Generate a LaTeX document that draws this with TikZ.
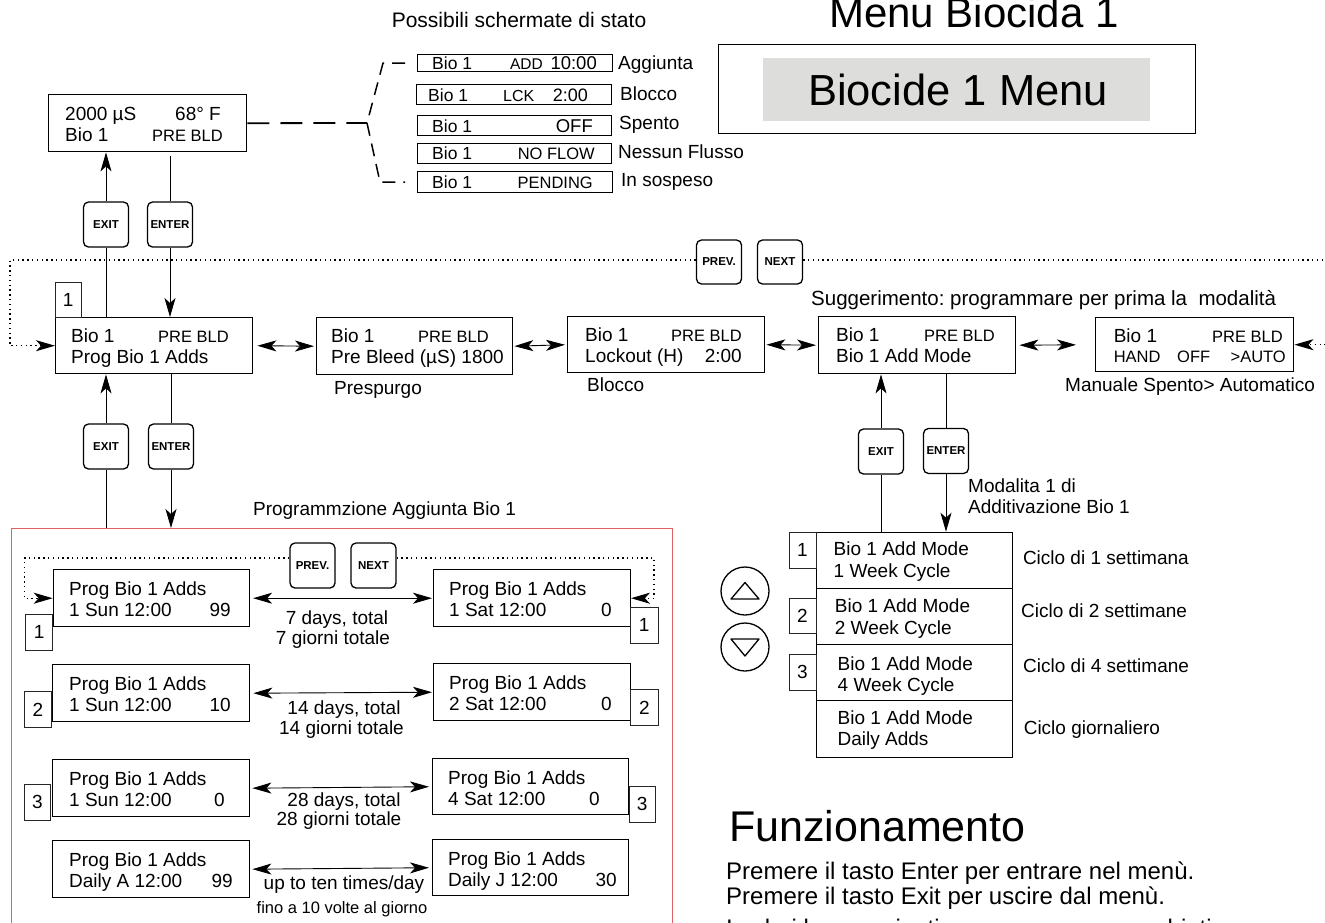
\documentclass[tikz,border=0pt]{standalone}
\usepackage{fontspec}
\setmainfont{Liberation Sans}
\usetikzlibrary{arrows.meta}
\definecolor{redline}{RGB}{228,96,96}
\definecolor{menugray}{RGB}{221,221,220}
\newcommand\fs[1]{\fontsize{#1}{#1}\selectfont}
\newcommand\bx[6][lcd]{\node[#1, minimum width={(#4)-(#2)}, minimum height={(#5)-(#3)}] (#6) at (#2,#3) {};}
\frenchspacing
\tikzset{
  sk/.tip={Stealth[length=19pt,width=11pt,inset=5pt]},
  lcd/.style={draw, line width=1.4pt, inner sep=0pt, anchor=north west},
  stat/.style={draw, line width=1.2pt, inner sep=0pt, anchor=north west},
  sq/.style={draw=black!85, line width=0.8pt, inner sep=0pt, anchor=north west, font=\fs{19}},
  btn/.style={draw, line width=1.3pt, rounded corners=5pt, fill=white, minimum width=45pt, minimum height=45pt, inner sep=0pt, font=\fs{11.5}\bfseries},
  ln/.style={line width=0.9pt},
  arr/.style={line width=0.9pt, -sk},
  darr/.style={line width=0.9pt, sk-sk},
  dots/.style={line width=1.4pt, dash pattern=on 1.4pt off 3.4pt},
  dshA/.style={line width=1.8pt, dash pattern=on 22pt off 11pt},
  dshB/.style={line width=1.5pt, dash pattern=on 13pt off 8pt},
  tx/.style={anchor=base west, inner sep=0pt, font=\fs{19}},
  ts/.style={anchor=base west, inner sep=0pt, font=\fs{16.5}},
  st/.style={anchor=base west, inner sep=0pt, font=\fs{17.5}},
  txr/.style={anchor=base east, inner sep=0pt, font=\fs{19}},
  tsr/.style={anchor=base east, inner sep=0pt, font=\fs{16.5}},
  tc/.style={anchor=base, inner sep=0pt, font=\fs{19}},
}
\begin{document}
\begin{tikzpicture}[x=1pt,y=-1pt]
\useasboundingbox (0,0) rectangle (1325,922);
\clip (0,0) rectangle (1325,922);

% ---------- titles
\node[anchor=base, inner sep=0pt, font=\fs{21}] (ttlA) at (519,27) {Possibili schermate di stato};
\node[anchor=base, inner sep=0pt, font=\fs{42}] (ttlB) at (974,27) {Menu Biocida 1};

% ---------- top display
\bx{48}{94}{246}{151}{top}
\node[tx] (topa) at (65,120) {2000 µS};
\node[tx] (topb) at (175,120) {68° F};
\node[tx] (topc) at (65,141) {Bio 1};
\node[ts] (topd) at (152,141) {PRE BLD};

% ---------- status screens
\bx[stat]{417}{54}{612}{71}{s1}
\bx[stat]{416}{84}{611}{104}{s2}
\bx[stat]{417}{115}{611}{135}{s3}
\bx[stat]{417}{143}{611}{163}{s4}
\bx[stat]{417}{171}{612}{192}{s5}
\node[st] (s1a) at (432,69.5) {Bio 1};
\node[anchor=base east, inner sep=0pt, font=\fs{15.5}] (s1b) at (543,69.5) {ADD};
\node[anchor=base east, inner sep=0pt, font=\fs{18.5}] (s1c) at (597,69.5) {10:00};
\node[st] (s2a) at (428,101.5) {Bio 1};
\node[anchor=base west, inner sep=0pt, font=\fs{16}] (s2b) at (503,101.5) {LCK};
\node[anchor=base east, inner sep=0pt, font=\fs{18}] (s2c) at (588,101.5) {2:00};
\node[st] (s3a) at (432,132.5) {Bio 1};
\node[anchor=base east, inner sep=0pt, font=\fs{18.5}] (s3b) at (593,132.5) {OFF};
\node[st] (s4a) at (432,159.5) {Bio 1};
\node[tsr] (s4b) at (595,159.5) {NO FLOW};
\node[st] (s5a) at (432,188.5) {Bio 1};
\node[tsr] (s5b) at (593,188.5) {PENDING};
\node[tx] (l1) at (618,69) {Aggiunta};
\node[tx] (l2) at (620,100.5) {Blocco};
\node[tx] (l3) at (619,129) {Spento};
\node[tx] (l4) at (618,158.5) {Nessun Flusso};
\node[tx] (l5) at (621,186) {In sospeso};

% dashed connector and brace
\coordinate (brc) at (367,123);
\draw[dshA] (top.east) -- (brc);
\draw[dshB] ([xshift=-12pt]s1.west) -- ([xshift=-34pt]s1.west) -- (brc) -- ([xshift=-37pt]s5.west) -- ([xshift=-12pt]s5.west);

% ---------- Biocide menu box
\bx{718}{44}{1195}{133}{menu}
\node[fill=menugray, inner sep=0pt, anchor=north west, minimum width=387, minimum height=63] (menug) at (763,58) {};
\node[anchor=base, inner sep=0pt, font=\fs{43.5}] (menut) at (958,105) {Biocide 1 Menu};

% ---------- main row
\bx{55}{317}{252}{373}{main}
\node[tx] (ma) at (71,342) {Bio 1};
\node[ts] (mb) at (158,342) {PRE BLD};
\node[tx] (mc) at (71,363) {Prog Bio 1 Adds};
\node[sq, minimum width=26.5, minimum height=35] (n0) at (54.5,282) {1};

\bx{316}{317}{512}{374}{pre}
\node[tx] (pa) at (331,342) {Bio 1};
\node[ts] (pb) at (418,342) {PRE BLD};
\node[tx] (pc) at (331,363) {Pre Bleed (µS) 1800};
\node[tx] (pd) at (334,394) {Prespurgo};

\bx{567}{316}{764}{372}{lock}
\node[tx] (ka) at (585,341) {Bio 1};
\node[ts] (kb) at (671,341) {PRE BLD};
\node[tx] (kc) at (585,362) {Lockout (H)};
\node[txr] (kd) at (742,362) {2:00};
\node[tx] (ke) at (587,391) {Blocco};

\bx{818}{316}{1015}{373}{addm}
\node[tx] (aa) at (836,341) {Bio 1};
\node[ts] (ab) at (924,341) {PRE BLD};
\node[tx] (ac) at (836,362) {Bio 1 Add Mode};
\node[anchor=base west, inner sep=0pt, font=\fs{20.5}] (sugg) at (811,305) {Suggerimento: programmare per prima la\ \ modalità};

\bx{1095}{317}{1293}{371}{hand}
\node[tx] (ha) at (1113.6,342) {Bio 1};
\node[tsr] (hb) at (1283,342) {PRE BLD};
\node[ts] (hc) at (1113.6,362) {HAND};
\node[ts] (hd) at (1177,362) {OFF};
\node[tsr] (he) at (1286,362) {>AUTO};
\node[tx] (hf) at (1065,391) {Manuale Spento> Automatico};

\draw[darr, shorten <=4pt, shorten >=2pt] (main.east) -- (pre.west);
\draw[darr, shorten <=1pt, shorten >=2pt] (pre.east) -- (lock.west);
\draw[darr, shorten <=1pt, shorten >=2pt] (lock.east) -- (addm.west);
\draw[darr, shorten <=3pt, shorten >=19pt] (addm.east) -- (hand.west);

% ---------- top buttons
\node[btn] (exA) at (106,224.5) {EXIT};
\node[btn] (enA) at (170,224.5) {ENTER};
\draw[arr] (exA.north) -- (exA.north |- top.south);
\draw[ln] (main.north -| exA) -- (exA.south);
\draw[ln] ([yshift=-4pt]top.south -| enA) -- (enA.north);
\draw[arr] (enA.south) -- (enA.south |- main.north);

% ---------- dotted PREV / NEXT loop
\coordinate (dl) at (10,260);
\coordinate (dr) at (1345,260);
\node[btn, minimum height=44pt] (prA) at (719,262) {PREV.};
\node[btn, minimum height=44pt] (nxA) at (780,262) {NEXT};
\draw[dots,-sk] (prA.west |- dl) -- (dl) |- (main.west);
\draw[dots] (nxA.east |- dr) -- (dr) -- (dr |- hand.east);
\draw[dots,-sk] (dr |- hand.east) -- (hand.east);

% ---------- lower-left buttons
\node[btn] (exB) at (106,446.5) {EXIT};
\node[btn] (enB) at (171,446.5) {ENTER};
\node[draw=redline, line width=0.9pt, anchor=north west, minimum width=661, minimum height=420, inner sep=0pt] (red) at (11,528) {};
\draw[arr] (exB.north) -- (exB.north |- main.south);
\draw[ln] (red.north -| exB) -- (exB.south);
\draw[ln] (main.south -| enB) -- (enB.north);
\draw[arr] (enB.south) -- (enB.south |- red.north);
\node[tc] (prog) at (384.6,515) {Programmzione Aggiunta Bio 1};

% ---------- programming rows
\bx{52.7}{569}{248.7}{626}{L1}
\node[tx] (L1a) at (69,595) {Prog Bio 1 Adds};
\node[tx] (L1b) at (69,616) {1 Sun 12:00};
\node[txr] (L1c) at (231,616) {99};
\bx{433}{569}{629.5}{626}{R1}
\node[tx] (R1a) at (449,595) {Prog Bio 1 Adds};
\node[tx] (R1b) at (449,616) {1 Sat 12:00};
\node[txr] (R1c) at (612,616) {0};

\bx{52}{664}{249}{721}{L2}
\node[tx] (L2a) at (69,690) {Prog Bio 1 Adds};
\node[tx] (L2b) at (69,711) {1 Sun 12:00};
\node[txr] (L2c) at (231,711) {10};
\bx{433}{663}{629.5}{720}{R2}
\node[tx] (R2a) at (449,689) {Prog Bio 1 Adds};
\node[tx] (R2b) at (449,710) {2 Sat 12:00};
\node[txr] (R2c) at (612,710) {0};

\bx{52}{759}{249}{816}{L3}
\node[tx] (L3a) at (69,785) {Prog Bio 1 Adds};
\node[tx] (L3b) at (69,806) {1 Sun 12:00};
\node[txr] (L3c) at (225,806) {0};
\bx{432}{758}{628}{814}{R3}
\node[tx] (R3a) at (448,784) {Prog Bio 1 Adds};
\node[tx] (R3b) at (448,805) {4 Sat 12:00};
\node[txr] (R3c) at (600,805) {0};

\bx{52}{840}{249}{897}{L4}
\node[tx] (L4a) at (69,866) {Prog Bio 1 Adds};
\node[tx] (L4b) at (69,887) {Daily A 12:00};
\node[txr] (L4c) at (233,887) {99};
\bx{432}{839}{628}{895}{R4}
\node[tx] (R4a) at (448,865) {Prog Bio 1 Adds};
\node[tx] (R4b) at (448,886) {Daily J 12:00};
\node[txr] (R4c) at (617,886) {30};

\node[sq, minimum width=26.6, minimum height=36] (q1l) at (25.4,614) {1};
\node[sq, minimum width=27, minimum height=36] (q2l) at (24,691) {2};
\node[sq, minimum width=26, minimum height=36] (q3l) at (24,784) {3};
\node[sq, minimum width=27.6, minimum height=36] (q1r) at (630,607) {1};
\node[sq, minimum width=28, minimum height=36] (q2r) at (630,689) {2};
\node[sq, minimum width=26.4, minimum height=36] (q3r) at (628.6,786) {3};

\draw[darr, shorten <=3pt, shorten >=1pt] (L1.east) -- (R1.west);
\draw[darr, shorten <=3pt, shorten >=1pt] (L2.east) -- (R2.west);
\draw[darr, shorten <=2pt, shorten >=3pt] (L3.east) -- (R3.west);
\draw[darr, shorten <=2pt, shorten >=3pt] (L4.east) -- (R4.west);
\node[tc] (d1a) at (337,624) {7 days, total};
\node[tc] (d1b) at (333,644) {7 giorni totale};
\node[tc] (d2a) at (344,714) {14 days, total};
\node[tc] (d2b) at (341.5,734) {14 giorni totale};
\node[tc] (d3a) at (344,806.5) {28 days, total};
\node[tc] (d3b) at (339,825.5) {28 giorni totale};
\node[tc] (d4a) at (344,889) {up to ten times/day};
\node[anchor=base, inner sep=0pt, font=\fs{16.5}] (d4b) at (342,913) {fino a 10 volte al giorno};

% inner dotted loop
\coordinate (il) at (24.5,558);
\coordinate (ir) at (654,558);
\node[btn] (prB) at (312.5,565.5) {PREV.};
\node[btn] (nxB) at (373.5,565.5) {NEXT};
\draw[dots,-sk] (prB.west |- il) -- (il) |- (L1.west);
\draw[dots,-sk] (nxB.east |- ir) -- (ir) |- (R1.east);

% ---------- add mode selection
\node[btn] (exC) at (881,451.5) {EXIT};
\node[btn] (enC) at (946,451) {ENTER};
\bx{815.6}{531.7}{1011.7}{588}{mode1}
\bx{815.6}{588}{1011.7}{644}{mode2}
\bx{815.6}{644}{1011.7}{700}{mode3}
\bx{815.6}{700}{1011.7}{757}{mode4}
\draw[arr] (exC.north) -- (exC.north |- addm.south);
\draw[ln] (mode1.north -| exC) -- (exC.south);
\draw[ln] (addm.south -| enC) -- (enC.north);
\draw[arr] (enC.south) -- (enC.south |- mode1.north);
\node[tx] (mo1) at (968,492) {Modalita 1 di};
\node[tx] (mo2) at (968,513) {Additivazione Bio 1};

\node[tx] (m1a) at (833.5,555.5) {Bio 1 Add Mode};
\node[tx] (m1b) at (833.5,577) {1 Week Cycle};
\node[tx] (m2a) at (834.7,612.5) {Bio 1 Add Mode};
\node[tx] (m2b) at (834.7,634) {2 Week Cycle};
\node[tx] (m3a) at (837.5,670) {Bio 1 Add Mode};
\node[tx] (m3b) at (837.5,691.5) {4 Week Cycle};
\node[tx] (m4a) at (837.5,724) {Bio 1 Add Mode};
\node[tx] (m4b) at (837.5,745.5) {Daily Adds};
\node[sq, minimum width=27, minimum height=36] (qm1) at (788.5,531.7) {1};
\node[sq, minimum width=27, minimum height=35] (qm2) at (788.5,598) {2};
\node[sq, minimum width=27, minimum height=36] (qm3) at (788.5,654) {3};
\node[tx] (c1) at (1022.8,564) {Ciclo di 1 settimana};
\node[tx] (c2) at (1021,617.5) {Ciclo di 2 settimane};
\node[tx] (c3) at (1023,672.5) {Ciclo di 4 settimane};
\node[tx] (c4) at (1023.6,734.5) {Ciclo giornaliero};

\node[circle, draw, line width=1.3pt, minimum size=48pt, inner sep=0pt] (up) at (745,591) {};
\node[circle, draw, line width=1.3pt, minimum size=48pt, inner sep=0pt] (dn) at (745,647) {};
\draw[line width=1.3pt, line join=round] ([yshift=8.5pt]up.center) -- ([xshift=14pt,yshift=-8pt]up.center) -- ([xshift=-14pt,yshift=-8pt]up.center) -- cycle;
\draw[line width=1.3pt, line join=round] ([yshift=-9pt]dn.center) -- ([xshift=14pt,yshift=8pt]dn.center) -- ([xshift=-14pt,yshift=8pt]dn.center) -- cycle;

% ---------- Funzionamento
\node[anchor=base west, inner sep=0pt, font=\fs{43}] (fz) at (729,841) {Funzionamento};
\node[anchor=base west, inner sep=0pt, font=\fs{24}] (fz1) at (726,879) {Premere il tasto Enter per entrare nel menù.};
\node[anchor=base west, inner sep=0pt, font=\fs{24}] (fz2) at (726,904) {Premere il tasto Exit per uscire dal menù.};
\node[anchor=base west, inner sep=0pt, font=\fs{24}] (fz3) at (726,936) {I valori lampeggianti possono essere cambiati};
\end{tikzpicture}
\end{document}
